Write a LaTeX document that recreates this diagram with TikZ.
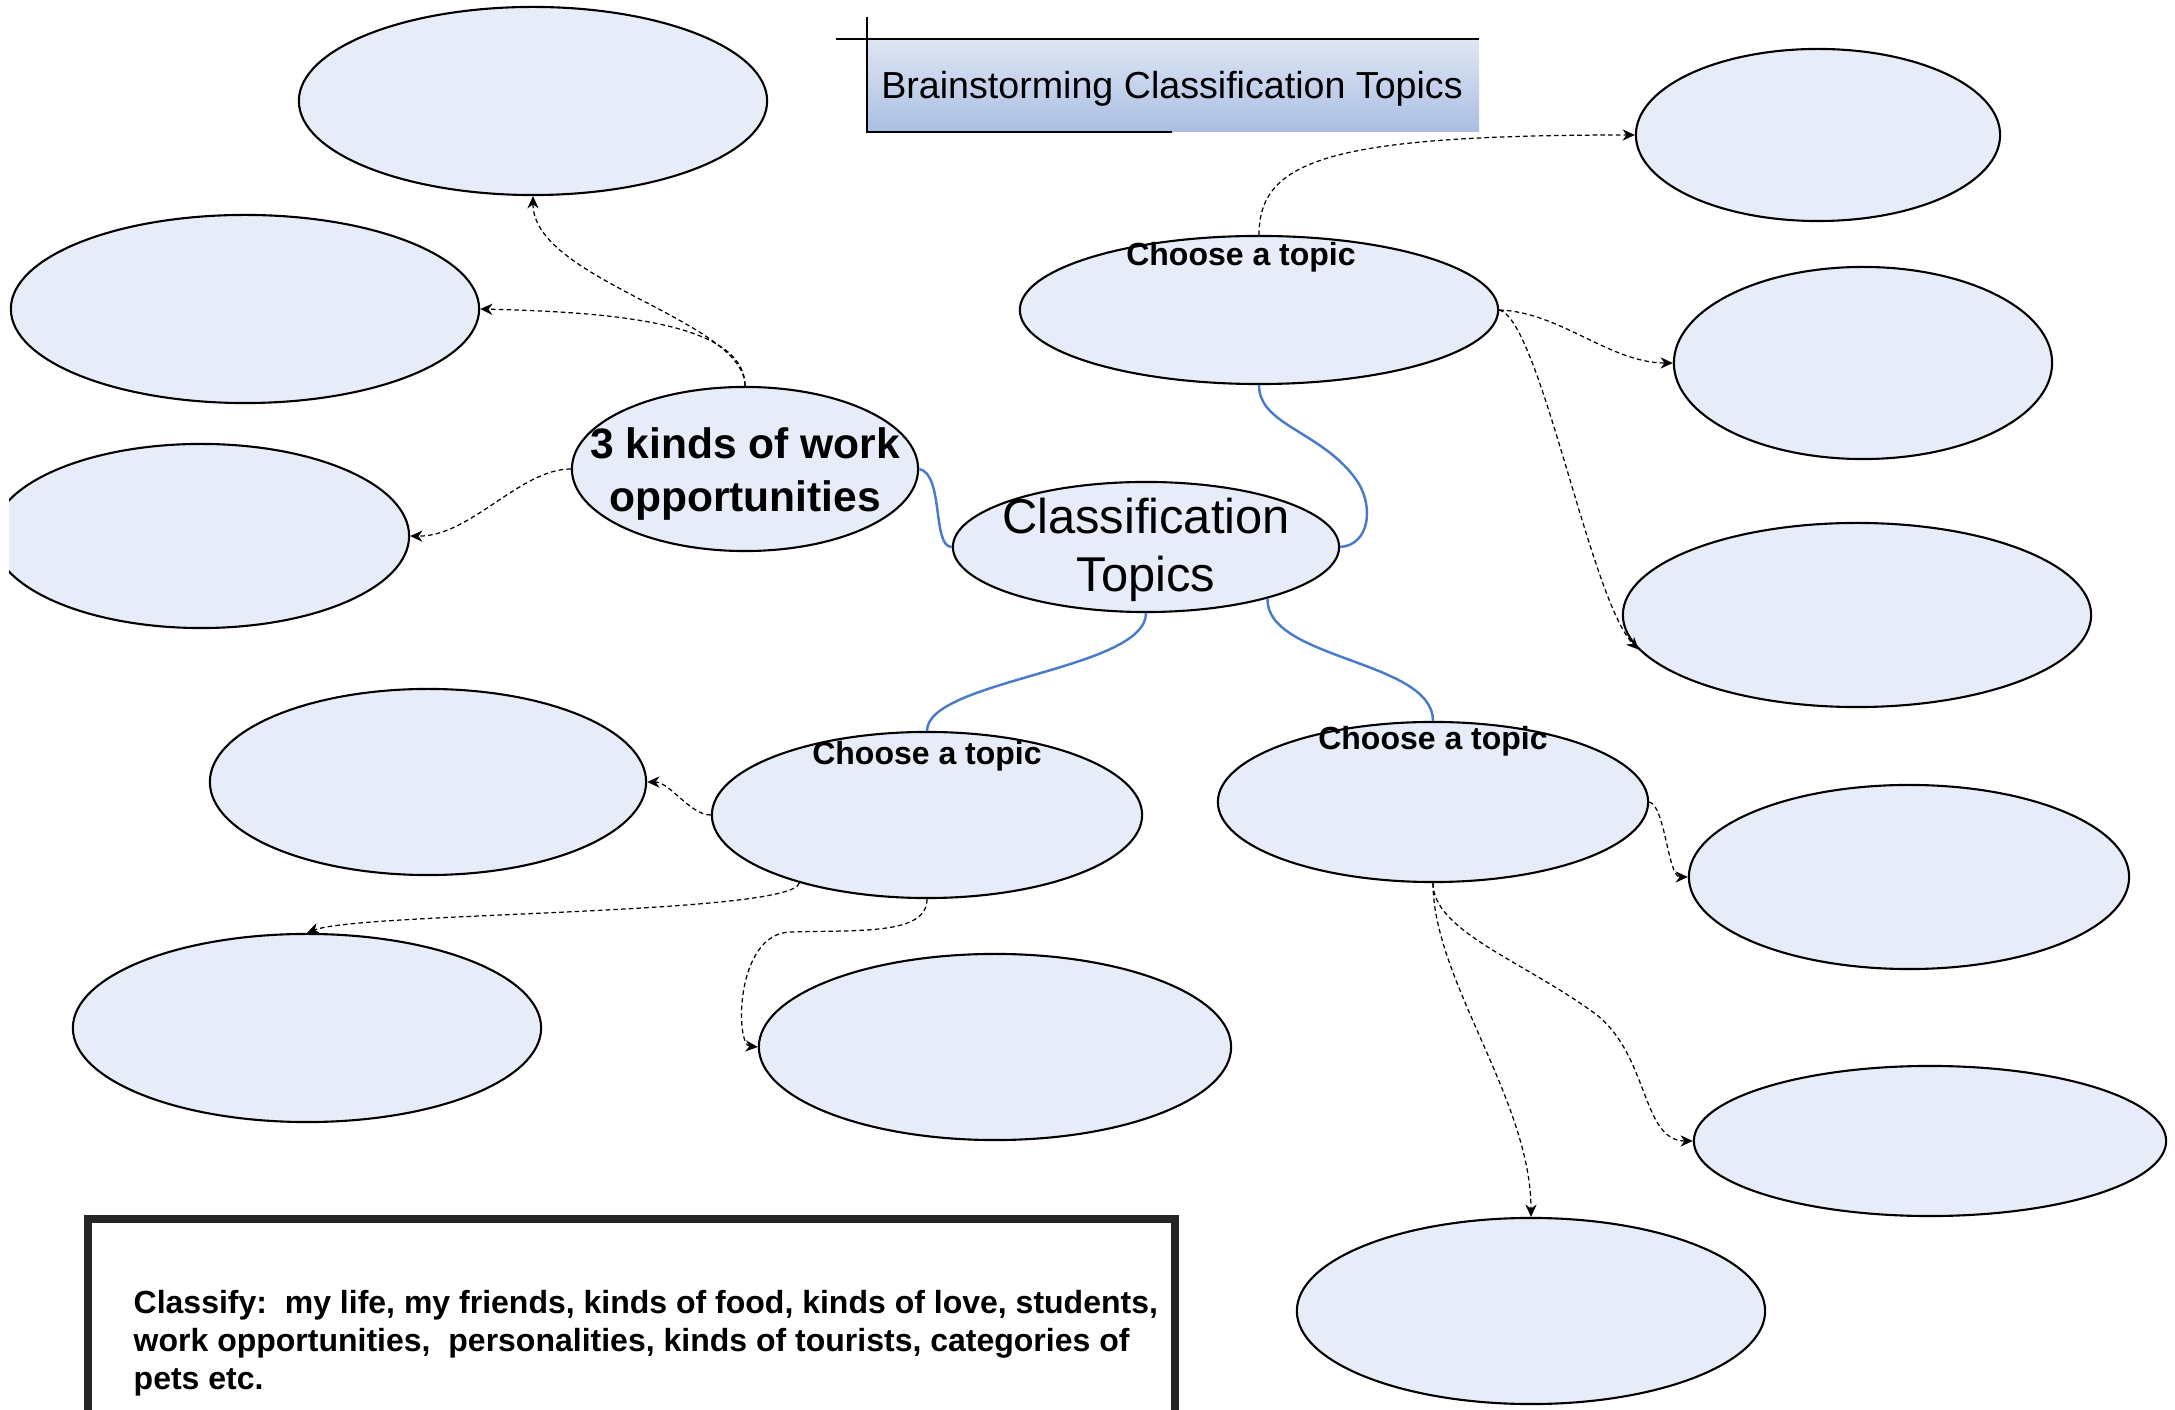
\documentclass[tikz,border=0pt]{standalone}
\usepackage{fontspec}
\setmainfont{Liberation Sans}
\usetikzlibrary{shapes.geometric,arrows.meta}
\definecolor{bubfill}{HTML}{E6EDF8}
\definecolor{linkblue}{HTML}{4A7BC8}
\definecolor{titletop}{HTML}{DFE6F3}
\definecolor{titlebot}{HTML}{A9BEE3}
\begin{document}
\begin{tikzpicture}[x=0.01cm,y=-0.01cm,
 bub/.style={ellipse,draw=black,line width=0.6pt,fill=bubfill,inner sep=0pt},
 txt/.style={inner sep=0pt,align=center},
 solidlink/.style={draw=linkblue,line width=0.7pt},
 dashlink/.style={draw=black,line width=0.35pt,dash pattern=on 1.3pt off 0.9pt,-{Stealth[length=3.5pt,width=3.2pt]}},
 framebox/.style={draw=black!85,line width=2pt}]
\useasboundingbox (0,0) rectangle (2175,1410);
\begin{scope}
\clip (9,0) rectangle (2175,1410);

% title
\fill[top color=titletop,bottom color=titlebot] (867,39) rectangle (1479,132);
\draw[line width=0.6pt] (836,39) -- (1479,39);
\draw[line width=0.6pt] (867,17) -- (867,132) -- (1172,132);
\node[txt,font=\fontsize{10.7}{12}\selectfont] (title) at (1172,89) {Brainstorming Classification Topics};

% ellipses
\node[bub,minimum width=4.68cm,minimum height=1.88cm] (A) at (533,101) {};
\node[bub,minimum width=4.68cm,minimum height=1.88cm] (B) at (245,309) {};
\node[bub,minimum width=4.16cm,minimum height=1.84cm] (C) at (201,536) {};
\node[bub,minimum width=3.46cm,minimum height=1.64cm] (D) at (745,469) {};
\node[bub,minimum width=3.86cm,minimum height=1.30cm] (E) at (1146,547) {};
\node[bub,minimum width=4.78cm,minimum height=1.48cm] (F) at (1259,310) {};
\node[bub,minimum width=3.64cm,minimum height=1.72cm] (G) at (1818,135) {};
\node[bub,minimum width=3.78cm,minimum height=1.92cm] (H) at (1863,363) {};
\node[bub,minimum width=4.68cm,minimum height=1.84cm] (I) at (1857,615) {};
\node[bub,minimum width=4.30cm,minimum height=1.66cm] (J) at (927,815) {};
\node[bub,minimum width=4.30cm,minimum height=1.60cm] (K) at (1433,802) {};
\node[bub,minimum width=4.36cm,minimum height=1.86cm] (L) at (428,782) {};
\node[bub,minimum width=4.68cm,minimum height=1.88cm] (M) at (307,1028) {};
\node[bub,minimum width=4.72cm,minimum height=1.86cm] (N) at (995,1047) {};
\node[bub,minimum width=4.40cm,minimum height=1.84cm] (O) at (1909,877) {};
\node[bub,minimum width=4.72cm,minimum height=1.50cm] (P) at (1930,1141) {};
\node[bub,minimum width=4.68cm,minimum height=1.86cm] (Q) at (1531,1311) {};

% texts
\node[txt,font=\bfseries\fontsize{12.1}{14.8}\selectfont] (Dt) at (745,474) {3 kinds of work\\opportunities};
\node[txt,font=\fontsize{13.9}{16.7}\selectfont] (Et) at (1146,550) {Classification\\Topics};
\node[txt,font=\bfseries\fontsize{9.1}{11}\selectfont] (Ft) at (1241,257) {Choose a topic};
\node[txt,font=\bfseries\fontsize{9.1}{11}\selectfont] (Jt) at (927,756) {Choose a topic};
\node[txt,font=\bfseries\fontsize{9.1}{11}\selectfont] (Kt) at (1433,741) {Choose a topic};

% blue links
\draw[solidlink] (D.east) .. controls +(25,5) and +(-20,0) .. (E.west);
\draw[solidlink] (E.east) .. controls (1370,545) and (1375,505) .. (1355,478) .. controls (1320,431) and (1259,425) .. (F.south);
\draw[solidlink] (E.south) .. controls (1146,670) and (927,680) .. (J.north);
\draw[solidlink] (E.-23) .. controls (1266,660) and (1433,660) .. (K.north);

% dashed arrows
\draw[dashlink] (D.north) .. controls (745,320) and (533,280) .. (A.south);
\draw[dashlink] (D.north) .. controls (745,320) and (600,312) .. (B.east);
\draw[dashlink] (D.west) .. controls (520,469) and (470,537) .. (C.east);
\draw[dashlink] (F.north) .. controls (1259,160) and (1330,135) .. (G.west);
\draw[dashlink] (F.east) .. controls (1560,312) and (1610,363) .. (H.west);
\draw[dashlink] (F.east) .. controls (1540,320) and (1590,600) .. (I.189);
\draw[dashlink] (J.west) .. controls (690,815) and (670,782) .. (L.east);
\draw[dashlink] (J.208) .. controls (793,915) and (360,912) .. (M.north);
\draw[dashlink] (J.south) .. controls (927,935) and (860,930) .. (790,932) .. controls (735,934) and (735,1045) .. (N.west);
\draw[dashlink] (K.east) .. controls (1665,805) and (1668,877) .. (O.west);
\draw[dashlink] (K.south) .. controls (1433,930) and (1520,960) .. (1590,1010) .. controls (1650,1050) and (1640,1141) .. (P.west);
\draw[dashlink] (K.south) .. controls (1433,980) and (1531,1100) .. (Q.north);

% bottom box
\draw[framebox] (88,1219) rectangle (1175,1470);
\node[txt,align=left,anchor=west,font=\bfseries\fontsize{9.1}{10.8}\selectfont] (note) at (133,1343)
 {Classify:\ \ my life, my friends, kinds of food, kinds of love, students,\\
  work opportunities,\ \ personalities, kinds of tourists, categories of\\
  pets etc.};
\end{scope}
\end{tikzpicture}
\end{document}
